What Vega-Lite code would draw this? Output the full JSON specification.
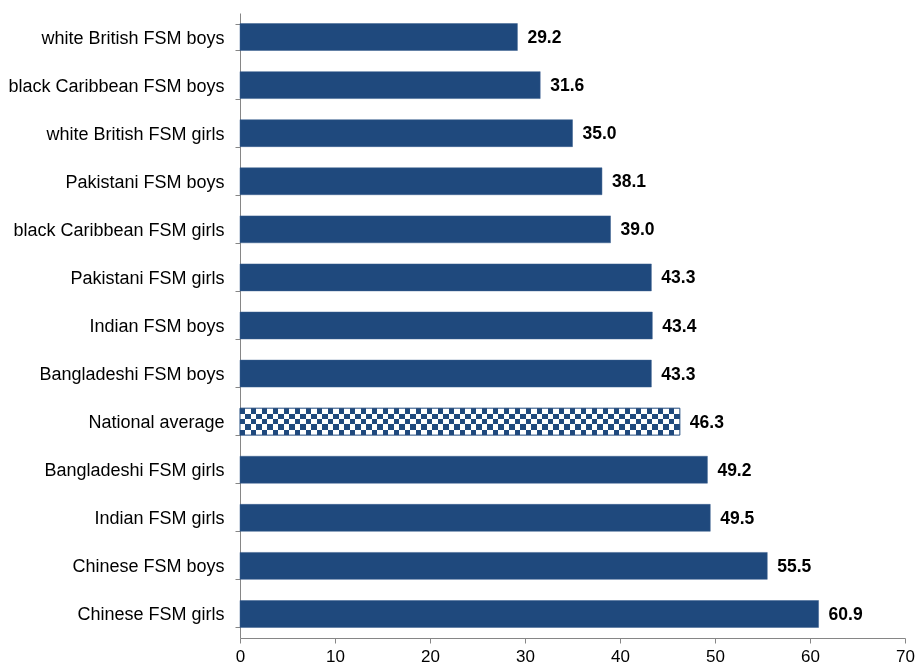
{
  "$schema": "https://vega.github.io/schema/vega-lite/v6.json",
  "autosize": {"type": "none"},
  "padding": {"left": 240, "top": 13, "right": 12, "bottom": 28},
  "width": 665,
  "height": 625,
  "background": "white",
  "config": {
    "view": {"stroke": null},
    "font": "Liberation Sans",
    "axis": {
      "labelFont": "Liberation Sans",
      "labelFontSize": 18,
      "labelColor": "#000000",
      "domainColor": "#868686",
      "tickColor": "#868686",
      "tickSize": 5,
      "grid": false,
      "title": null,
      "labelLimit": 0
    }
  },
  "data": {
    "values": [
      {"group": "white British FSM boys", "value": 29.2, "kind": "group"},
      {"group": "black Caribbean FSM boys", "value": 31.6, "kind": "group"},
      {"group": "white British FSM girls", "value": 35.0, "kind": "group"},
      {"group": "Pakistani FSM boys", "value": 38.1, "kind": "group"},
      {"group": "black Caribbean FSM girls", "value": 39.0, "kind": "group"},
      {"group": "Pakistani FSM girls", "value": 43.3, "kind": "group"},
      {"group": "Indian FSM boys", "value": 43.4, "kind": "group"},
      {"group": "Bangladeshi FSM boys", "value": 43.3, "kind": "group"},
      {"group": "National average", "value": 46.3, "kind": "average"},
      {"group": "Bangladeshi FSM girls", "value": 49.2, "kind": "group"},
      {"group": "Indian FSM girls", "value": 49.5, "kind": "group"},
      {"group": "Chinese FSM boys", "value": 55.5, "kind": "group"},
      {"group": "Chinese FSM girls", "value": 60.9, "kind": "group"}
    ]
  },
  "encoding": {
    "y": {
      "field": "group",
      "type": "nominal",
      "sort": null,
      "scale": {
        "domain": ["white British FSM boys", "black Caribbean FSM boys", "white British FSM girls", "Pakistani FSM boys", "black Caribbean FSM girls", "Pakistani FSM girls", "Indian FSM boys", "Bangladeshi FSM boys", "National average", "Bangladeshi FSM girls", "Indian FSM girls", "Chinese FSM boys", "Chinese FSM girls"],
        "paddingInner": 0.44,
        "paddingOuter": 0.22
      },
      "axis": {"tickBand": "extent", "labelPadding": 11, "labelOffset": 1}
    },
    "x": {
      "field": "value",
      "type": "quantitative",
      "scale": {"domain": [0, 70], "nice": false},
      "axis": {"values": [0, 10, 20, 30, 40, 50, 60, 70], "labelPadding": 5, "labelFlush": false, "labelFontSize": 17}
    }
  },
  "layer": [
    {
      "transform": [{"filter": "datum.kind == 'group'"}],
      "mark": {"type": "bar", "fill": "#1F497D", "stroke": "#3a5f8f", "strokeWidth": 0.5}
    },
    {
      "transform": [{"filter": "datum.kind == 'average'"}],
      "mark": {
        "type": "bar",
        "fill": {
          "gradient": "linear", "x1": 0, "y1": 0, "x2": 1, "y2": 0,
          "stops": [
            {"offset": 0, "color": "#000"},
            {"offset": 0.0125, "color": "#000"}, {"offset": 0.0125, "color": "#fff"},
            {"offset": 0.025, "color": "#fff"}, {"offset": 0.025, "color": "#000"},
            {"offset": 0.0375, "color": "#000"}, {"offset": 0.0375, "color": "#fff"},
            {"offset": 0.05, "color": "#fff"}, {"offset": 0.05, "color": "#000"},
            {"offset": 0.0625, "color": "#000"}, {"offset": 0.0625, "color": "#fff"},
            {"offset": 0.075, "color": "#fff"}, {"offset": 0.075, "color": "#000"},
            {"offset": 0.0875, "color": "#000"}, {"offset": 0.0875, "color": "#fff"},
            {"offset": 0.1, "color": "#fff"}, {"offset": 0.1, "color": "#000"},
            {"offset": 0.1125, "color": "#000"}, {"offset": 0.1125, "color": "#fff"},
            {"offset": 0.125, "color": "#fff"}, {"offset": 0.125, "color": "#000"},
            {"offset": 0.1375, "color": "#000"}, {"offset": 0.1375, "color": "#fff"},
            {"offset": 0.15, "color": "#fff"}, {"offset": 0.15, "color": "#000"},
            {"offset": 0.1625, "color": "#000"}, {"offset": 0.1625, "color": "#fff"},
            {"offset": 0.175, "color": "#fff"}, {"offset": 0.175, "color": "#000"},
            {"offset": 0.1875, "color": "#000"}, {"offset": 0.1875, "color": "#fff"},
            {"offset": 0.2, "color": "#fff"}, {"offset": 0.2, "color": "#000"},
            {"offset": 0.2125, "color": "#000"}, {"offset": 0.2125, "color": "#fff"},
            {"offset": 0.225, "color": "#fff"}, {"offset": 0.225, "color": "#000"},
            {"offset": 0.2375, "color": "#000"}, {"offset": 0.2375, "color": "#fff"},
            {"offset": 0.25, "color": "#fff"}, {"offset": 0.25, "color": "#000"},
            {"offset": 0.2625, "color": "#000"}, {"offset": 0.2625, "color": "#fff"},
            {"offset": 0.275, "color": "#fff"}, {"offset": 0.275, "color": "#000"},
            {"offset": 0.2875, "color": "#000"}, {"offset": 0.2875, "color": "#fff"},
            {"offset": 0.3, "color": "#fff"}, {"offset": 0.3, "color": "#000"},
            {"offset": 0.3125, "color": "#000"}, {"offset": 0.3125, "color": "#fff"},
            {"offset": 0.325, "color": "#fff"}, {"offset": 0.325, "color": "#000"},
            {"offset": 0.3375, "color": "#000"}, {"offset": 0.3375, "color": "#fff"},
            {"offset": 0.35, "color": "#fff"}, {"offset": 0.35, "color": "#000"},
            {"offset": 0.3625, "color": "#000"}, {"offset": 0.3625, "color": "#fff"},
            {"offset": 0.375, "color": "#fff"}, {"offset": 0.375, "color": "#000"},
            {"offset": 0.3875, "color": "#000"}, {"offset": 0.3875, "color": "#fff"},
            {"offset": 0.4, "color": "#fff"}, {"offset": 0.4, "color": "#000"},
            {"offset": 0.4125, "color": "#000"}, {"offset": 0.4125, "color": "#fff"},
            {"offset": 0.425, "color": "#fff"}, {"offset": 0.425, "color": "#000"},
            {"offset": 0.4375, "color": "#000"}, {"offset": 0.4375, "color": "#fff"},
            {"offset": 0.45, "color": "#fff"}, {"offset": 0.45, "color": "#000"},
            {"offset": 0.4625, "color": "#000"}, {"offset": 0.4625, "color": "#fff"},
            {"offset": 0.475, "color": "#fff"}, {"offset": 0.475, "color": "#000"},
            {"offset": 0.4875, "color": "#000"}, {"offset": 0.4875, "color": "#fff"},
            {"offset": 0.5, "color": "#fff"}, {"offset": 0.5, "color": "#000"},
            {"offset": 0.5125, "color": "#000"}, {"offset": 0.5125, "color": "#fff"},
            {"offset": 0.525, "color": "#fff"}, {"offset": 0.525, "color": "#000"},
            {"offset": 0.5375, "color": "#000"}, {"offset": 0.5375, "color": "#fff"},
            {"offset": 0.55, "color": "#fff"}, {"offset": 0.55, "color": "#000"},
            {"offset": 0.5625, "color": "#000"}, {"offset": 0.5625, "color": "#fff"},
            {"offset": 0.575, "color": "#fff"}, {"offset": 0.575, "color": "#000"},
            {"offset": 0.5875, "color": "#000"}, {"offset": 0.5875, "color": "#fff"},
            {"offset": 0.6, "color": "#fff"}, {"offset": 0.6, "color": "#000"},
            {"offset": 0.6125, "color": "#000"}, {"offset": 0.6125, "color": "#fff"},
            {"offset": 0.625, "color": "#fff"}, {"offset": 0.625, "color": "#000"},
            {"offset": 0.6375, "color": "#000"}, {"offset": 0.6375, "color": "#fff"},
            {"offset": 0.65, "color": "#fff"}, {"offset": 0.65, "color": "#000"},
            {"offset": 0.6625, "color": "#000"}, {"offset": 0.6625, "color": "#fff"},
            {"offset": 0.675, "color": "#fff"}, {"offset": 0.675, "color": "#000"},
            {"offset": 0.6875, "color": "#000"}, {"offset": 0.6875, "color": "#fff"},
            {"offset": 0.7, "color": "#fff"}, {"offset": 0.7, "color": "#000"},
            {"offset": 0.7125, "color": "#000"}, {"offset": 0.7125, "color": "#fff"},
            {"offset": 0.725, "color": "#fff"}, {"offset": 0.725, "color": "#000"},
            {"offset": 0.7375, "color": "#000"}, {"offset": 0.7375, "color": "#fff"},
            {"offset": 0.75, "color": "#fff"}, {"offset": 0.75, "color": "#000"},
            {"offset": 0.7625, "color": "#000"}, {"offset": 0.7625, "color": "#fff"},
            {"offset": 0.775, "color": "#fff"}, {"offset": 0.775, "color": "#000"},
            {"offset": 0.7875, "color": "#000"}, {"offset": 0.7875, "color": "#fff"},
            {"offset": 0.8, "color": "#fff"}, {"offset": 0.8, "color": "#000"},
            {"offset": 0.8125, "color": "#000"}, {"offset": 0.8125, "color": "#fff"},
            {"offset": 0.825, "color": "#fff"}, {"offset": 0.825, "color": "#000"},
            {"offset": 0.8375, "color": "#000"}, {"offset": 0.8375, "color": "#fff"},
            {"offset": 0.85, "color": "#fff"}, {"offset": 0.85, "color": "#000"},
            {"offset": 0.8625, "color": "#000"}, {"offset": 0.8625, "color": "#fff"},
            {"offset": 0.875, "color": "#fff"}, {"offset": 0.875, "color": "#000"},
            {"offset": 0.8875, "color": "#000"}, {"offset": 0.8875, "color": "#fff"},
            {"offset": 0.9, "color": "#fff"}, {"offset": 0.9, "color": "#000"},
            {"offset": 0.9125, "color": "#000"}, {"offset": 0.9125, "color": "#fff"},
            {"offset": 0.925, "color": "#fff"}, {"offset": 0.925, "color": "#000"},
            {"offset": 0.9375, "color": "#000"}, {"offset": 0.9375, "color": "#fff"},
            {"offset": 0.95, "color": "#fff"}, {"offset": 0.95, "color": "#000"},
            {"offset": 0.9625, "color": "#000"}, {"offset": 0.9625, "color": "#fff"},
            {"offset": 0.975, "color": "#fff"}, {"offset": 0.975, "color": "#000"},
            {"offset": 0.9875, "color": "#000"}, {"offset": 0.9875, "color": "#fff"},
            {"offset": 1, "color": "#fff"}
          ]
        }
      }
    },
    {
      "transform": [{"filter": "datum.kind == 'average'"}],
      "mark": {
        "type": "bar",
        "blend": "difference",
        "fill": {
          "gradient": "linear", "x1": 0, "y1": 0, "x2": 0, "y2": 1,
          "stops": [
            {"offset": 0, "color": "#000"}, {"offset": 0.2, "color": "#000"},
            {"offset": 0.2, "color": "#fff"}, {"offset": 0.4, "color": "#fff"},
            {"offset": 0.4, "color": "#000"}, {"offset": 0.6, "color": "#000"},
            {"offset": 0.6, "color": "#fff"}, {"offset": 0.8, "color": "#fff"},
            {"offset": 0.8, "color": "#000"}, {"offset": 1, "color": "#000"}
          ]
        }
      }
    },
    {
      "transform": [{"filter": "datum.kind == 'average'"}],
      "mark": {"type": "bar", "blend": "screen", "fill": "#1F497D"}
    },
    {
      "transform": [{"filter": "datum.kind == 'average'"}],
      "mark": {"type": "bar", "fill": null, "fillOpacity": 0, "stroke": "#1F497D", "strokeWidth": 1}
    },
    {
      "mark": {
        "type": "text",
        "align": "left",
        "baseline": "middle",
        "dx": 10,
        "dy": 1,
        "font": "Liberation Sans",
        "fontSize": 17.5,
        "fontWeight": "bold",
        "color": "#000000"
      },
      "encoding": {
        "text": {"field": "value", "type": "quantitative", "format": ".1f"}
      }
    }
  ]
}
